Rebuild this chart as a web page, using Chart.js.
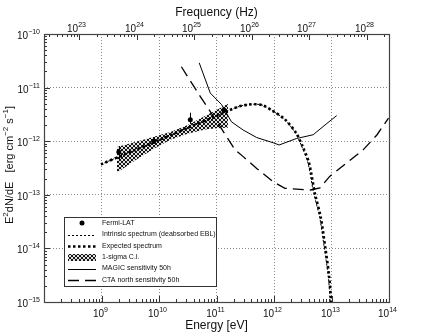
<!DOCTYPE html>
<html>
<head>
<meta charset="utf-8">
<script src="https://cdn.jsdelivr.net/npm/chart.js@4.4.0/dist/chart.umd.min.js"></script>
<style>
html, body { margin: 0; padding: 0; background: #fff; }
#wrap { width: 432px; height: 336px; }
</style>
</head>
<body>
<div id="wrap"><canvas id="sedChart" width="432" height="336"></canvas></div>
<script>
// Fermi-LAT points (eV, erg cm^-2 s^-1)
const fermiEnergy = [2.0e9, 8.1e9, 3.5e10, 1.35e11];
const fermiFlux = [6.3e-13, 1.0e-12, 2.5e-12, 3.8e-12];
const fermiFluxLo = [4.5e-13, 9.0e-13, 2.1e-12, 3.4e-12];
const fermiFluxHi = [8.1e-13, 1.12e-12, 3.4e-12, 4.3e-12];

// Expected spectrum (EBL absorbed)
const expEnergy = [9.8e8, 3.16e9, 1.0e10, 3.16e10, 1.0e11, 1.7e11, 2.5e11, 3.55e11, 4.7e11, 6.3e11, 9.8e11, 1.58e12, 2.45e12, 3.16e12, 4.07e12, 5.13e12, 6.46e12, 7.76e12, 9.12e12, 9.77e12, 1.0e13];
const expFlux = [3.7e-13, 6.3e-13, 1.05e-12, 1.78e-12, 2.95e-12, 3.8e-12, 4.47e-12, 4.8e-12, 4.9e-12, 4.7e-12, 3.6e-12, 2.5e-12, 1.4e-12, 7.9e-13, 3.9e-13, 1.07e-13, 3.9e-14, 1.07e-14, 2.95e-15, 1.17e-15, 7.9e-16];

// Intrinsic spectrum (deabsorbed EBL)
const intEnergy = [9.8e8, 3.16e9, 1.0e10, 3.16e10, 1.0e11, 1.7e11, 2.5e11, 3.55e11, 4.7e11, 6.3e11, 9.8e11, 1.55e12, 2.38e12, 3.05e12, 3.9e12, 4.9e12, 6.2e12, 7.45e12, 8.8e12, 9.4e12, 9.7e12];
const intFlux = [3.7e-13, 6.3e-13, 1.05e-12, 1.78e-12, 2.95e-12, 3.8e-12, 4.47e-12, 4.8e-12, 4.9e-12, 4.7e-12, 3.6e-12, 2.5e-12, 1.4e-12, 7.9e-13, 3.9e-13, 1.07e-13, 3.9e-14, 1.07e-14, 2.95e-15, 1.17e-15, 7.9e-16];

// 1-sigma butterfly
const bandEnergy = [1.86e9, 4.0e9, 7.9e9, 1.58e10, 3.16e10, 6.3e10, 1.0e11, 1.58e11];
const bandUpper = [7.8e-13, 9.8e-13, 1.2e-12, 1.48e-12, 2.0e-12, 2.95e-12, 3.8e-12, 5.0e-12];
const bandLower = [2.57e-13, 4.5e-13, 7.1e-13, 1.07e-12, 1.38e-12, 1.66e-12, 1.74e-12, 1.78e-12];

// MAGIC sensitivity 50h
const magicEnergy = [5.0e10, 7.8e10, 1.23e11, 1.82e11, 2.9e11, 5.0e11, 9.8e11, 1.23e12, 2.45e12, 4.8e12, 8.3e12, 1.23e13];
const magicFlux = [2.9e-11, 7.9e-12, 4.8e-12, 2.3e-12, 1.62e-12, 1.17e-12, 9.3e-13, 8.5e-13, 1.12e-12, 1.32e-12, 2.14e-12, 3.0e-12];

// CTA north sensitivity 50h
const ctaEnergy = [2.45e10, 5.1e10, 1.07e11, 2.1e11, 2.95e11, 5.0e11, 9.8e11, 1.55e12, 4.3e12, 6.3e12, 9.3e12, 1.82e13, 3.55e13, 6.2e13, 9.8e13];
const ctaFlux = [2.45e-11, 7.1e-12, 2.14e-12, 6.9e-13, 5.1e-13, 3.1e-13, 1.74e-13, 1.32e-13, 1.23e-13, 1.35e-13, 2.2e-13, 3.9e-13, 6.9e-13, 1.32e-12, 2.7e-12];

// axis decades (exponents)
const energyDecades = [8, 9, 10, 11, 12, 13, 14];
const energyLabelled = [9, 10, 11, 12, 13, 14];
const freqDecades = [22, 23, 24, 25, 26, 27, 28];
const freqLabelled = [23, 24, 25, 26, 27, 28];
const fluxDecades = [-15, -14, -13, -12, -11, -10];

const legendLabels = ['Fermi-LAT', 'Intrinsic spectrum (deabsorbed EBL)', 'Expected spectrum', '1-sigma C.I.', 'MAGIC sensitivity 50h', 'CTA north sensitivity 50h'];

const HZ_PER_EV = 2.418e14;
const FONT = '"Liberation Sans", Arial, sans-serif';

function pairs(xs, ys) {
    return xs.map((x, i) => ({ x: x, y: ys[i] }));
}

// log ticks: decades are major, 2..9 are minor
function logTicks(decades, min, max, labelled) {
    const out = [];
    decades.forEach(d => {
        for (let m = 1; m <= 9; m++) {
            const v = m * Math.pow(10, d);
            if (v < min * 0.999 || v > max * 1.001) continue;
            out.push({ value: v, major: m === 1, exp: (m === 1 && labelled.includes(d)) ? d : null });
        }
    });
    return out;
}

// text with superscript parts
function drawRich(ctx, parts, x, y, align, size, supSize, rise) {
    let w = 0;
    parts.forEach(p => {
        ctx.font = (p.sup ? supSize : size) + 'px ' + FONT;
        p.w = ctx.measureText(p.t).width;
        w += p.w;
    });
    let cx = align === 'right' ? x - w : (align === 'center' ? x - w / 2 : x);
    ctx.textAlign = 'left';
    ctx.textBaseline = 'middle';
    parts.forEach(p => {
        ctx.font = (p.sup ? supSize : size) + 'px ' + FONT;
        ctx.fillText(p.t, cx, p.sup ? y - rise : y);
        cx += p.w;
    });
}

function powParts(d) {
    return [{ t: '10' }, { t: String(d).replace('-', '\u2212'), sup: true }];
}

// crosshatch fill for the confidence band
function makeHatch() {
    const c = document.createElement('canvas');
    c.width = 4; c.height = 4;
    const g = c.getContext('2d');
    g.fillStyle = '#e0e0e0';
    g.fillRect(0, 0, 4, 4);
    g.fillStyle = '#151515';
    [[0, 0], [1, 1], [2, 2], [3, 3], [3, 0], [2, 1], [1, 2], [0, 3]].forEach(p => g.fillRect(p[0], p[1], 1, 1));
    return g.createPattern(c, 'repeat');
}
const hatch = makeHatch();

const gridColor = c => (c.tick && c.tick.major) ? '#8a8a8a' : 'rgba(0,0,0,0)';

// inward ticks, tick labels, frame, error bars, legend and y title
const sedExtras = {
    id: 'sedExtras',
    afterDatasetsDraw(chart) {
        const ctx = chart.ctx;
        const a = chart.chartArea;
        const xs = chart.scales.x, ys = chart.scales.y, x2 = chart.scales.x2;
        ctx.save();

        // error bars
        ctx.strokeStyle = '#000';
        ctx.lineWidth = 1;
        fermiEnergy.forEach((e, i) => {
            const px = Math.round(xs.getPixelForValue(e)) + 0.5;
            ctx.beginPath();
            ctx.moveTo(px, ys.getPixelForValue(fermiFluxLo[i]));
            ctx.lineTo(px, ys.getPixelForValue(fermiFluxHi[i]));
            ctx.stroke();
        });

        // ticks and labels
        ctx.strokeStyle = '#333';
        ctx.fillStyle = '#111';
        xs.ticks.forEach(t => {
            const p = Math.round(xs.getPixelForValue(t.value)) + 0.5;
            const len = t.major ? 6 : 3;
            ctx.beginPath(); ctx.moveTo(p, a.bottom); ctx.lineTo(p, a.bottom - len); ctx.stroke();
            if (t.exp !== null) drawRich(ctx, powParts(t.exp), p - 2, a.bottom + 12, 'center', 10, 7, 4);
        });
        x2.ticks.forEach(t => {
            const p = Math.round(x2.getPixelForValue(t.value)) + 0.5;
            const len = t.major ? 6 : 3;
            ctx.beginPath(); ctx.moveTo(p, a.top); ctx.lineTo(p, a.top + len); ctx.stroke();
            if (t.exp !== null) drawRich(ctx, powParts(t.exp), p - 3, a.top - 5, 'center', 10, 7, 4);
        });
        ys.ticks.forEach(t => {
            const p = Math.round(ys.getPixelForValue(t.value)) + 0.5;
            const len = t.major ? 6 : 3;
            ctx.beginPath(); ctx.moveTo(a.left, p); ctx.lineTo(a.left + len, p); ctx.stroke();
            if (t.exp !== null) drawRich(ctx, powParts(t.exp), a.left - 4, p + 2, 'right', 10, 7, 4.5);
        });

        // frame
        ctx.lineWidth = 1.2;
        ctx.strokeStyle = '#444';
        ctx.strokeRect(Math.round(a.left) + 0.5, Math.round(a.top) + 0.5, Math.round(a.right - a.left), Math.round(a.bottom - a.top));

        // legend
        const bx = 64, by = 217, bw = 152, bh = 69;
        ctx.fillStyle = '#fff';
        ctx.fillRect(bx, by, bw, bh);
        ctx.lineWidth = 1;
        ctx.strokeStyle = '#333';
        ctx.strokeRect(bx + 0.5, by + 0.5, bw, bh);
        const rowY = [223, 234.5, 246, 257.5, 268.5, 280];
        const sx0 = 68, sx1 = 96;
        legendLabels.forEach((lab, i) => {
            const y = rowY[i];
            ctx.save();
            ctx.strokeStyle = '#000';
            ctx.fillStyle = '#000';
            if (i === 0) {
                ctx.beginPath(); ctx.arc((sx0 + sx1) / 2, y, 2.5, 0, Math.PI * 2); ctx.fill();
            } else if (i === 3) {
                ctx.fillStyle = hatch;
                ctx.fillRect(sx0, y - 3.5, sx1 - sx0, 7);
            } else {
                const ds = chart.data.datasets.find(d => d.label === lab);
                ctx.lineWidth = ds.borderWidth;
                ctx.setLineDash(ds.borderDash || []);
                ctx.beginPath(); ctx.moveTo(sx0, Math.round(y) + 0.5); ctx.lineTo(sx1, Math.round(y) + 0.5); ctx.stroke();
            }
            ctx.restore();
            ctx.font = '7px ' + FONT;
            ctx.textBaseline = 'middle';
            ctx.textAlign = 'left';
            ctx.fillStyle = '#111';
            ctx.fillText(lab, 102, y);
        });

        // y title
        ctx.save();
        ctx.translate(10, 165);
        ctx.rotate(-Math.PI / 2);
        ctx.fillStyle = '#111';
        drawRich(ctx, [
            { t: 'E' }, { t: '2', sup: true }, { t: 'dN/dE   [erg cm' }, { t: '\u22122', sup: true },
            { t: ' s' }, { t: '\u22121', sup: true }, { t: ']' }
        ], 0, 0, 'center', 11, 8, 4);
        ctx.restore();

        ctx.restore();
    }
};

const logAxisBase = {
    type: 'logarithmic',
    ticks: { display: false, autoSkip: false },
    border: { display: false, dash: [1, 2] }
};

new Chart(document.getElementById('sedChart'), {
    type: 'line',
    data: {
        datasets: [
            {
                label: 'Fermi-LAT',
                data: pairs(fermiEnergy, fermiFlux),
                showLine: false,
                pointRadius: 2.5,
                pointBackgroundColor: '#000',
                pointBorderWidth: 0,
                order: 0
            },
            {
                label: 'Expected spectrum',
                data: pairs(expEnergy, expFlux),
                borderColor: '#000',
                borderWidth: 2.6,
                borderDash: [2.5, 2.5],
                pointRadius: 0,
                tension: 0.3,
                order: 1
            },
            {
                label: 'Intrinsic spectrum (deabsorbed EBL)',
                data: pairs(intEnergy, intFlux),
                borderColor: '#000',
                borderWidth: 1,
                borderDash: [2, 2],
                pointRadius: 0,
                tension: 0.3,
                order: 2
            },
            {
                label: 'MAGIC sensitivity 50h',
                data: pairs(magicEnergy, magicFlux),
                borderColor: '#000',
                borderWidth: 1,
                pointRadius: 0,
                order: 3
            },
            {
                label: 'CTA north sensitivity 50h',
                data: pairs(ctaEnergy, ctaFlux),
                borderColor: '#000',
                borderWidth: 1.3,
                borderDash: [11, 6],
                pointRadius: 0,
                order: 4
            },
            {
                label: '1-sigma C.I.',
                data: pairs(bandEnergy, bandUpper),
                borderWidth: 0,
                borderColor: 'rgba(0,0,0,0)',
                backgroundColor: hatch,
                fill: '+1',
                pointRadius: 0,
                order: 8
            },
            {
                label: '1-sigma lower',
                data: pairs(bandEnergy, bandLower),
                borderWidth: 0,
                borderColor: 'rgba(0,0,0,0)',
                fill: false,
                pointRadius: 0,
                order: 9
            }
        ]
    },
    options: {
        responsive: false,
        devicePixelRatio: 1,
        animation: false,
        layout: { padding: { left: 0, right: 43, top: 0, bottom: 0 } },
        plugins: {
            legend: { display: false },
            tooltip: { enabled: false }
        },
        scales: {
            x: {
                ...logAxisBase,
                position: 'bottom',
                min: 1e8,
                max: 1e14,
                afterBuildTicks: s => { s.ticks = logTicks(energyDecades, 1e8, 1e14, energyLabelled); },
                afterFit: s => { s.height = 34; },
                grid: { color: gridColor, lineWidth: 1, drawTicks: false },
                title: {
                    display: true,
                    text: 'Energy [eV]',
                    color: '#111',
                    font: { family: FONT, size: 12 },
                    padding: { top: 0, bottom: 3 }
                }
            },
            x2: {
                ...logAxisBase,
                position: 'top',
                min: 1e8 * HZ_PER_EV,
                max: 1e14 * HZ_PER_EV,
                afterBuildTicks: s => { s.ticks = logTicks(freqDecades, 1e8 * HZ_PER_EV, 1e14 * HZ_PER_EV, freqLabelled); },
                afterFit: s => { s.height = 34; },
                grid: { display: false, drawTicks: false },
                title: {
                    display: true,
                    text: 'Frequency (Hz)',
                    color: '#111',
                    font: { family: FONT, size: 12 },
                    padding: { top: 5, bottom: 0 }
                }
            },
            y: {
                ...logAxisBase,
                position: 'left',
                min: 1e-15,
                max: 1e-10,
                afterBuildTicks: s => { s.ticks = logTicks(fluxDecades, 1e-15, 1e-10, fluxDecades); },
                afterFit: s => { s.width = 44; },
                grid: { color: gridColor, lineWidth: 1, drawTicks: false }
            }
        }
    },
    plugins: [sedExtras]
});
</script>
</body>
</html>
